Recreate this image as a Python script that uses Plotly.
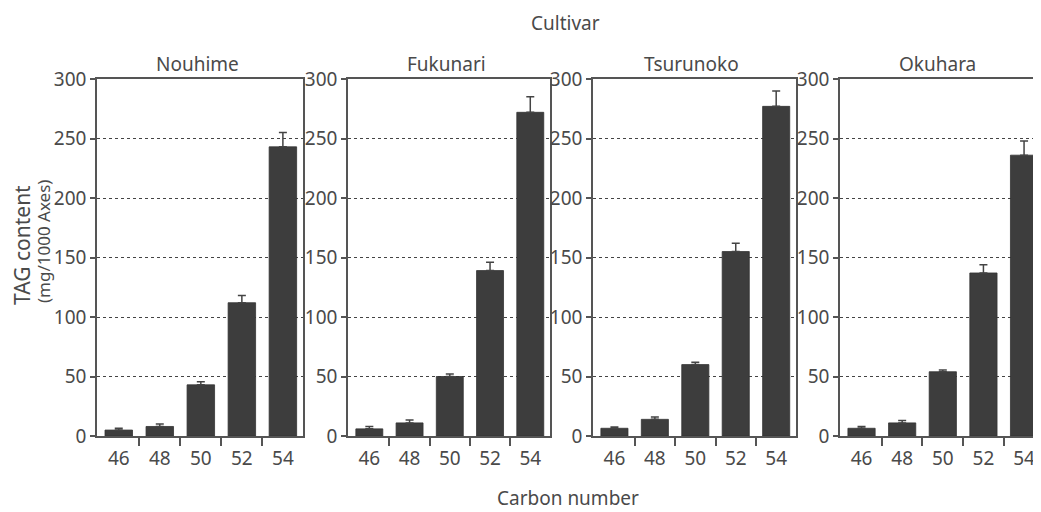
import plotly.graph_objects as go

# The page body adds an 8px margin, so the figure is drawn 8px in from the top-left.
OFF = 8
W, H = 1041 - OFF, 512 - OFF

cultivars = ["Nouhime", "Fukunari", "Tsurunoko", "Okuhara"]
carbon_numbers = [46, 48, 50, 52, 54]
carbon_labels = ["46", "48", "50", "52", "54"]

nouhime = [5, 8, 43, 112, 243]
nouhime_err = [1.5, 2, 2.5, 6, 12]
fukunari = [6, 11, 50, 139, 272]
fukunari_err = [2, 2.5, 2, 7, 13]
tsurunoko = [6.5, 14, 60, 155, 277]
tsurunoko_err = [1, 2, 2, 7, 13]
okuhara = [6.5, 11, 54, 137, 236]
okuhara_err = [1.5, 2, 1.5, 7, 12]

y_ticks = [0, 50, 100, 150, 200, 250, 300]

values = [nouhime, fukunari, tsurunoko, okuhara]
errors = [nouhime_err, fukunari_err, tsurunoko_err, okuhara_err]

# panel geometry in page pixels (left, right)
panels_px = [(97, 303), (348, 550), (593, 796), (840, 1041)]
top_px, bottom_px = 79, 436


def px(x):
    return (x - OFF) / W


def py(y):
    return 1 - (y - OFF) / H


FONT = "Noto Sans"
TXT = "#4a4a4a"
AX = "#555555"
BAR = "#3d3d3d"

fig = go.Figure()
layout = dict(
    width=W, height=H,
    margin=dict(l=0, r=0, t=0, b=0, autoexpand=False),
    paper_bgcolor="white", plot_bgcolor="white",
    showlegend=False,
    font=dict(family=FONT, size=19, color=TXT),
)

annotations = []
for i, name in enumerate(cultivars):
    n = "" if i == 0 else str(i + 1)
    fig.add_trace(go.Bar(
        x=carbon_numbers, y=values[i],
        marker=dict(color=BAR, line=dict(color="#333333", width=0.8)),
        width=1.34,
        error_y=dict(type="data", array=errors[i], arrayminus=[0] * 5,
                     symmetric=False, color="#444444", thickness=1.5, width=4),
        xaxis="x" + n, yaxis="y" + n,
    ))
    l, r = panels_px[i]
    last = (i == 3)
    xr = [44.94, 54.98] if not last else [44.94, 54.98 - (1044 - 1041) / 20.5]
    layout["xaxis" + n] = dict(
        domain=[px(l), px(r)],
        anchor="y" + n,
        range=xr,
        tickmode="array", tickvals=carbon_numbers, ticktext=carbon_labels,
        ticks="", showgrid=False, zeroline=False,
        showline=True, linecolor=AX, linewidth=1.5, mirror=True,
        tickfont=dict(size=19, color=TXT),
        ticklabelstandoff=4,
        minor=dict(tickmode="array", tickvals=[47, 49, 51, 53], ticks="outside",
                   ticklen=8, tickwidth=1.5, tickcolor=AX, showgrid=False),
        fixedrange=True, automargin=False,
    )
    layout["yaxis" + n] = dict(
        domain=[py(bottom_px), py(top_px)],
        anchor="x" + n,
        range=[0, 300],
        tickmode="array", tickvals=y_ticks,
        ticks="outside", ticklen=5, tickwidth=1.5, tickcolor=AX,
        showgrid=True, gridcolor="#444444", gridwidth=1, griddash="dot",
        zeroline=False,
        showline=True, linecolor=AX, linewidth=1.5, mirror=(not last),
        tickfont=dict(size=19, color=TXT),
        fixedrange=True, automargin=False,
    )
    annotations.append(dict(
        text=name, xref="paper", yref="paper",
        x=px((l + r) / 2 - 3), y=py(64),
        showarrow=False, font=dict(size=19, color=TXT),
        xanchor="center", yanchor="middle",
    ))

annotations += [
    dict(text="Cultivar", xref="paper", yref="paper", x=px(565), y=py(23),
         showarrow=False, font=dict(size=19, color=TXT), xanchor="center", yanchor="middle"),
    dict(text="Carbon number", xref="paper", yref="paper", x=px(568), y=py(498),
         showarrow=False, font=dict(size=19, color=TXT), xanchor="center", yanchor="middle",
         borderpad=0),
    dict(text="TAG content", xref="paper", yref="paper", x=px(22), y=py(245),
         showarrow=False, textangle=-90, font=dict(size=21, color=TXT),
         xanchor="center", yanchor="middle"),
    dict(text="(mg/1000 Axes)", xref="paper", yref="paper", x=px(43), y=py(242),
         showarrow=False, textangle=-90, font=dict(size=17, color=TXT),
         xanchor="center", yanchor="middle"),
]
layout["annotations"] = annotations

fig.update_layout(**layout)
fig.write_html("out.html")
